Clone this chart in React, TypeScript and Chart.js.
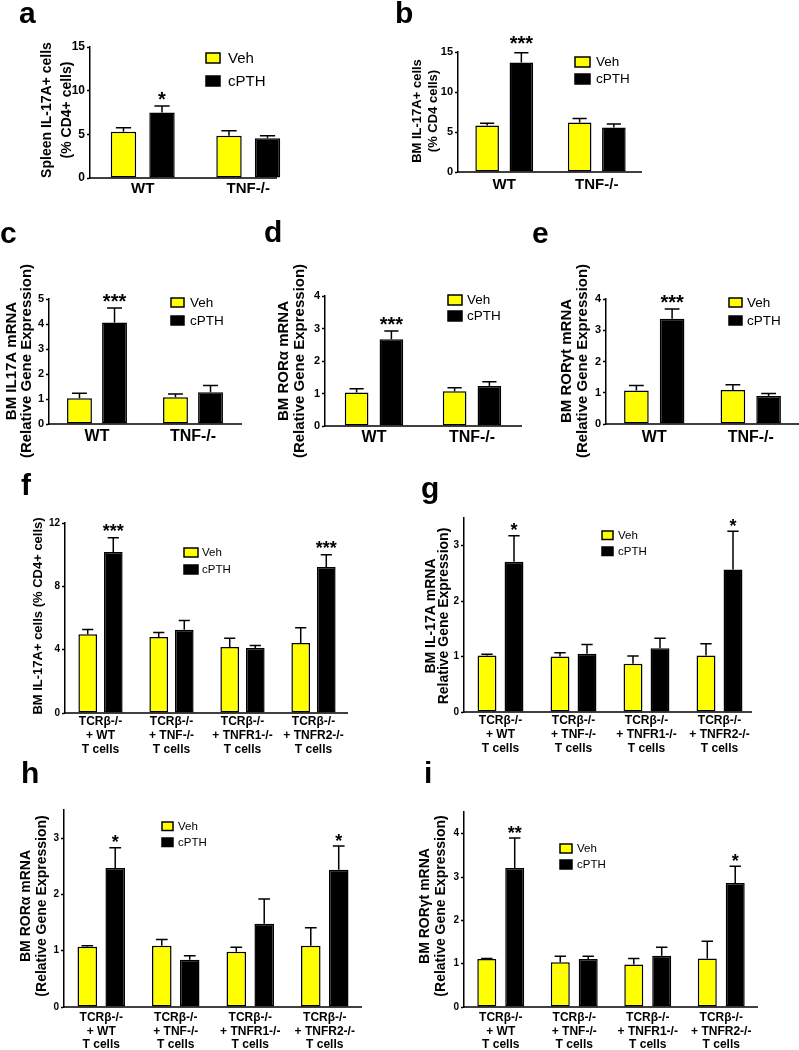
import React, { useEffect, useRef } from 'react';
import { Chart, registerables } from 'chart.js';

Chart.register(...registerables);

const W = 799;
const H = 1050;
const FONT = "'Liberation Sans', Arial, Helvetica, sans-serif";
const YELLOW = '#ffff00';
const INK = '#000000';

// ---------- shared labels ----------
const SERIES = ['Veh', 'cPTH'];
const GROUPS_TNF = ['WT', 'TNF-/-'];
const GROUPS_TCR = [
  ['TCRβ-/-', '+ WT', 'T cells'],
  ['TCRβ-/-', '+ TNF-/-', 'T cells'],
  ['TCRβ-/-', '+ TNFR1-/-', 'T cells'],
  ['TCRβ-/-', '+ TNFR2-/-', 'T cells'],
];

// ---------- panel a: Spleen IL-17A+ cells ----------
const A_VEH = [5.3, 4.85];
const A_VEH_ERR = [0.45, 0.57];
const A_CPTH = [7.5, 4.55];
const A_CPTH_ERR = [0.75, 0.3];
const A_STARS = ['*', ''];

// ---------- panel b: BM IL-17A+ cells ----------
const B_VEH = [5.8, 6.2];
const B_VEH_ERR = [0.3, 0.5];
const B_CPTH = [13.7, 5.55];
const B_CPTH_ERR = [1.2, 0.45];
const B_STARS = ['***', ''];

// ---------- panel c: BM IL17A mRNA ----------
const C_VEH = [1.03, 1.07];
const C_VEH_ERR = [0.2, 0.13];
const C_CPTH = [4.06, 1.27];
const C_CPTH_ERR = [0.58, 0.27];
const C_STARS = ['***', ''];

// ---------- panel d: BM RORα mRNA ----------
const D_VEH = [1.03, 1.07];
const D_VEH_ERR = [0.12, 0.11];
const D_CPTH = [2.67, 1.23];
const D_CPTH_ERR = [0.25, 0.13];
const D_STARS = ['***', ''];

// ---------- panel e: BM RORγt mRNA ----------
const E_VEH = [1.07, 1.09];
const E_VEH_ERR = [0.16, 0.17];
const E_CPTH = [3.37, 0.9];
const E_CPTH_ERR = [0.31, 0.08];
const E_STARS = ['***', ''];

// ---------- panel f: BM IL-17A+ cells (TCRβ-/- transfers) ----------
const F_VEH = [4.97, 4.8, 4.17, 4.42];
const F_VEH_ERR = [0.31, 0.29, 0.55, 0.97];
const F_CPTH = [10.17, 5.26, 4.1, 9.22];
const F_CPTH_ERR = [0.9, 0.59, 0.17, 0.78];
const F_STARS = ['***', '', '', '***'];

// ---------- panel g: BM IL-17A mRNA ----------
const G_VEH = [1.02, 1.0, 0.87, 1.02];
const G_VEH_ERR = [0.02, 0.07, 0.14, 0.21];
const G_CPTH = [2.71, 1.05, 1.15, 2.57];
const G_CPTH_ERR = [0.47, 0.17, 0.18, 0.69];
const G_STARS = ['*', '', '', '*'];

// ---------- panel h: BM RORα mRNA ----------
const H_VEH = [1.07, 1.09, 0.98, 1.09];
const H_VEH_ERR = [0.02, 0.11, 0.08, 0.32];
const H_CPTH = [2.47, 0.84, 1.48, 2.44];
const H_CPTH_ERR = [0.36, 0.07, 0.44, 0.42];
const H_STARS = ['*', '', '', '*'];

// ---------- panel i: BM RORγt mRNA ----------
const I_VEH = [1.11, 1.03, 0.98, 1.12];
const I_VEH_ERR = [0.01, 0.14, 0.14, 0.4];
const I_CPTH = [3.21, 1.11, 1.18, 2.86];
const I_CPTH_ERR = [0.69, 0.06, 0.2, 0.39];
const I_STARS = ['**', '', '', '*'];

type PanelCfg = {
  letter: string; letterX: number; letterY: number;
  labels: (string | string[])[];
  veh: number[]; vehErr: number[]; cpth: number[]; cpthErr: number[]; stars: string[];
  x0: number; xR: number; axisEnd: number; yTop: number; yBot: number;
  yMax: number; yStep: number; tickSize: number;
  xLabelSize: number; xLabelLH: number; xLabelPad: number;
  title: string[]; titleX: number[]; titleY: number; titleSize: number;
  legX: number; legY: number[]; legW: number; legH: number; legSize: number; legGap: number;
  starSize: number; starGap: number;
  catPct: number; barPct: number;
};

const PANELS: PanelCfg[] = [
  {
    letter: 'a', letterX: 19, letterY: 23, labels: GROUPS_TNF,
    veh: A_VEH, vehErr: A_VEH_ERR, cpth: A_CPTH, cpthErr: A_CPTH_ERR, stars: A_STARS,
    x0: 90, xR: 301, axisEnd: 277, yTop: 47, yBot: 178, yMax: 15, yStep: 5, tickSize: 12,
    xLabelSize: 15, xLabelLH: 1.2, xLabelPad: 2,
    title: ['Spleen IL-17A+ cells', '(% CD4+ cells)'], titleX: [47, 67], titleY: 110, titleSize: 14,
    legX: 206, legY: [53, 76], legW: 14, legH: 10, legSize: 15, legGap: 8,
    starSize: 20, starGap: 10, catPct: 0.73, barPct: 0.66,
  },
  {
    letter: 'b', letterX: 395, letterY: 23, labels: GROUPS_TNF,
    veh: B_VEH, vehErr: B_VEH_ERR, cpth: B_CPTH, cpthErr: B_CPTH_ERR, stars: B_STARS,
    x0: 458, xR: 643, axisEnd: 642, yTop: 52, yBot: 172, yMax: 15, yStep: 5, tickSize: 11,
    xLabelSize: 15, xLabelLH: 1.2, xLabelPad: 4,
    title: ['BM IL-17A+ cells', '(% CD4 cells)'], titleX: [417, 433], titleY: 111, titleSize: 13,
    legX: 575, legY: [57, 74], legW: 15, legH: 10, legSize: 13.5, legGap: 6,
    starSize: 20, starGap: 13, catPct: 0.74, barPct: 0.69,
  },
  {
    letter: 'c', letterX: 0, letterY: 243, labels: GROUPS_TNF,
    veh: C_VEH, vehErr: C_VEH_ERR, cpth: C_CPTH, cpthErr: C_CPTH_ERR, stars: C_STARS,
    x0: 49, xR: 241, axisEnd: 242, yTop: 299, yBot: 424, yMax: 5, yStep: 1, tickSize: 11,
    xLabelSize: 16, xLabelLH: 1.2, xLabelPad: 3,
    title: ['BM IL17A mRNA', '(Relative Gene Expression)'], titleX: [12, 27], titleY: 361, titleSize: 15,
    legX: 171, legY: [298, 316], legW: 13, legH: 9, legSize: 13.5, legGap: 6,
    starSize: 20, starGap: 10, catPct: 0.73, barPct: 0.71,
  },
  {
    letter: 'd', letterX: 264, letterY: 242, labels: GROUPS_TNF,
    veh: D_VEH, vehErr: D_VEH_ERR, cpth: D_CPTH, cpthErr: D_CPTH_ERR, stars: D_STARS,
    x0: 325, xR: 521, axisEnd: 522, yTop: 296, yBot: 426, yMax: 4, yStep: 1, tickSize: 11,
    xLabelSize: 16, xLabelLH: 1.2, xLabelPad: 2,
    title: ['BM RORα mRNA', '(Relative Gene Expression)'], titleX: [284, 300], titleY: 361, titleSize: 15,
    legX: 448, legY: [295, 311], legW: 14, legH: 10, legSize: 13.5, legGap: 5,
    starSize: 20, starGap: 10, catPct: 0.71, barPct: 0.68,
  },
  {
    letter: 'e', letterX: 532, letterY: 243, labels: GROUPS_TNF,
    veh: E_VEH, vehErr: E_VEH_ERR, cpth: E_CPTH, cpthErr: E_CPTH_ERR, stars: E_STARS,
    x0: 606, xR: 799, axisEnd: 799, yTop: 299, yBot: 424, yMax: 4, yStep: 1, tickSize: 11,
    xLabelSize: 16, xLabelLH: 1.2, xLabelPad: 4,
    title: ['BM RORγt mRNA', '(Relative Gene Expression)'], titleX: [567, 583], titleY: 361, titleSize: 15,
    legX: 729, legY: [298, 316], legW: 13, legH: 9, legSize: 13.5, legGap: 5,
    starSize: 20, starGap: 10, catPct: 0.74, barPct: 0.69,
  },
  {
    letter: 'f', letterX: 21, letterY: 495, labels: GROUPS_TCR,
    veh: F_VEH, vehErr: F_VEH_ERR, cpth: F_CPTH, cpthErr: F_CPTH_ERR, stars: F_STARS,
    x0: 65, xR: 349, axisEnd: 348, yTop: 523, yBot: 713, yMax: 12, yStep: 4, tickSize: 10,
    xLabelSize: 12, xLabelLH: 1.15, xLabelPad: 2,
    title: ['BM IL-17A+ cells (% CD4+ cells)'], titleX: [38], titleY: 616, titleSize: 13,
    legX: 184, legY: [548, 565], legW: 14, legH: 9, legSize: 11.5, legGap: 4,
    starSize: 18, starGap: 10, catPct: 0.72, barPct: 0.73,
  },
  {
    letter: 'g', letterX: 421, letterY: 498, labels: GROUPS_TCR,
    veh: G_VEH, vehErr: G_VEH_ERR, cpth: G_CPTH, cpthErr: G_CPTH_ERR, stars: G_STARS,
    x0: 464, xR: 756, axisEnd: 752, yTop: 518, yBot: 712, yMax: 3.5, yStep: 1, tickSize: 10,
    xLabelSize: 12, xLabelLH: 1.15, xLabelPad: 2,
    title: ['BM IL-17A mRNA', 'Relative Gene Expression)'], titleX: [431, 444], titleY: 616, titleSize: 14,
    legX: 602, legY: [531, 547], legW: 11, legH: 8.5, legSize: 11.5, legGap: 5,
    starSize: 18, starGap: 9, catPct: 0.74, barPct: 0.7,
  },
  {
    letter: 'h', letterX: 21, letterY: 783, labels: GROUPS_TCR,
    veh: H_VEH, vehErr: H_VEH_ERR, cpth: H_CPTH, cpthErr: H_CPTH_ERR, stars: H_STARS,
    x0: 64, xR: 362, axisEnd: 362, yTop: 810, yBot: 1007, yMax: 3.5, yStep: 1, tickSize: 10,
    xLabelSize: 12, xLabelLH: 1.15, xLabelPad: 3.5,
    title: ['BM RORα mRNA', '(Relative Gene Expression)'], titleX: [26, 42], titleY: 906, titleSize: 14,
    legX: 162, legY: [822, 838], legW: 11, legH: 8.5, legSize: 11.5, legGap: 5,
    starSize: 18, starGap: 9, catPct: 0.75, barPct: 0.7,
  },
  {
    letter: 'i', letterX: 424, letterY: 783, labels: GROUPS_TCR,
    veh: I_VEH, vehErr: I_VEH_ERR, cpth: I_CPTH, cpthErr: I_CPTH_ERR, stars: I_STARS,
    x0: 464, xR: 758, axisEnd: 758, yTop: 812, yBot: 1007, yMax: 4.5, yStep: 1, tickSize: 10,
    xLabelSize: 12, xLabelLH: 1.15, xLabelPad: 3.5,
    title: ['BM RORγt mRNA', '(Relative Gene Expression)'], titleX: [425, 441], titleY: 906, titleSize: 14,
    legX: 560, legY: [844, 860], legW: 12, legH: 9, legSize: 11.5, legGap: 5,
    starSize: 18, starGap: 9, catPct: 0.76, barPct: 0.68,
  },
];

function overlayPlugin(p: PanelCfg) {
  return {
    id: 'overlay_' + p.letter,
    afterDraw(chart: any) {
      const ctx: CanvasRenderingContext2D = chart.ctx;
      const ys = chart.scales.y;
      const area = chart.chartArea;
      ctx.save();
      ctx.strokeStyle = INK;
      ctx.fillStyle = INK;
      ctx.lineWidth = 1.5;

      // x axis line
      const y0 = ys.getPixelForValue(0);
      ctx.beginPath();
      ctx.moveTo(area.left - 0.75, y0);
      ctx.lineTo(p.axisEnd, y0);
      ctx.stroke();

      // error bars + significance stars
      [0, 1].forEach((di) => {
        const meta = chart.getDatasetMeta(di);
        const vals = di === 0 ? p.veh : p.cpth;
        const errs = di === 0 ? p.vehErr : p.cpthErr;
        meta.data.forEach((el: any, i: number) => {
          const { x, width } = el.getProps(['x', 'width'], true);
          const top = ys.getPixelForValue(vals[i]);
          const capY = ys.getPixelForValue(vals[i] + errs[i]);
          const half = width * 0.3;
          ctx.beginPath();
          ctx.moveTo(x, top);
          ctx.lineTo(x, capY);
          ctx.moveTo(x - half, capY);
          ctx.lineTo(x + half, capY);
          ctx.stroke();
          if (di === 1 && p.stars[i]) {
            ctx.font = `bold ${p.starSize}px ${FONT}`;
            ctx.textAlign = 'center';
            ctx.textBaseline = 'alphabetic';
            const m = ctx.measureText(p.stars[i]);
            const base = capY - p.starGap + (m.actualBoundingBoxAscent - m.actualBoundingBoxDescent) / 2;
            ctx.fillText(p.stars[i], x, base);
          }
        });
      });

      // legend
      SERIES.forEach((name, k) => {
        const by = p.legY[k];
        ctx.fillStyle = k === 0 ? YELLOW : INK;
        ctx.fillRect(p.legX, by, p.legW, p.legH);
        ctx.strokeStyle = INK;
        ctx.lineWidth = 1.5;
        ctx.strokeRect(p.legX, by, p.legW, p.legH);
        ctx.fillStyle = INK;
        ctx.font = `${p.legSize}px ${FONT}`;
        ctx.textAlign = 'left';
        ctx.textBaseline = 'middle';
        ctx.fillText(name, p.legX + p.legW + p.legGap, by + p.legH / 2 + 0.5);
      });

      // y-axis title (rotated)
      ctx.font = `bold ${p.titleSize}px ${FONT}`;
      ctx.textAlign = 'center';
      ctx.textBaseline = 'middle';
      p.title.forEach((line, k) => {
        ctx.save();
        ctx.translate(p.titleX[k], p.titleY);
        ctx.rotate(-Math.PI / 2);
        ctx.fillText(line, 0, 0);
        ctx.restore();
      });

      // panel letter
      ctx.font = `bold 30px ${FONT}`;
      ctx.textAlign = 'left';
      ctx.textBaseline = 'alphabetic';
      ctx.fillText(p.letter, p.letterX, p.letterY);
      ctx.restore();
    },
  };
}

function makeConfig(p: PanelCfg): any {
  return {
    type: 'bar',
    data: {
      labels: p.labels,
      datasets: [
        { label: SERIES[0], data: p.veh, backgroundColor: YELLOW, borderColor: INK, borderWidth: 1.5, borderSkipped: false },
        { label: SERIES[1], data: p.cpth, backgroundColor: INK, borderColor: INK, borderWidth: 1.5, borderSkipped: false },
      ],
    },
    options: {
      responsive: false,
      animation: false,
      events: [],
      devicePixelRatio: 1,
      layout: { padding: { left: 0, top: p.yTop, right: W - p.xR, bottom: 0 } },
      plugins: { legend: { display: false }, title: { display: false }, tooltip: { enabled: false } },
      datasets: { bar: { categoryPercentage: p.catPct, barPercentage: p.barPct } },
      scales: {
        x: {
          type: 'category',
          offset: true,
          grid: { display: false, drawTicks: false },
          border: { display: false },
          ticks: {
            color: INK,
            autoSkip: false,
            maxRotation: 0,
            minRotation: 0,
            padding: p.xLabelPad,
            font: { family: FONT, size: p.xLabelSize, weight: 'bold', lineHeight: p.xLabelLH },
          },
          afterFit: (s: any) => { s.height = H - p.yBot; },
        },
        y: {
          type: 'linear',
          min: 0,
          max: p.yMax,
          grid: { display: true, drawOnChartArea: false, drawTicks: true, tickLength: 3, tickColor: INK, tickWidth: 1.5, color: INK },
          border: { display: true, color: INK, width: 1.5 },
          ticks: {
            stepSize: p.yStep,
            includeBounds: false,
            color: INK,
            padding: 2,
            font: { family: FONT, size: p.tickSize, weight: 'bold' },
          },
          afterBuildTicks: (s: any) => {
            s.ticks = s.ticks.filter((t: any) => Math.abs(t.value / p.yStep - Math.round(t.value / p.yStep)) < 1e-6);
          },
          afterFit: (s: any) => { s.width = p.x0; },
        },
      },
    },
    plugins: [overlayPlugin(p)],
  };
}

function Panel({ p }: { p: PanelCfg }) {
  const ref = useRef<HTMLCanvasElement>(null);
  useEffect(() => {
    if (!ref.current) return;
    const chart = new Chart(ref.current, makeConfig(p));
    return () => chart.destroy();
  }, [p]);
  return (
    <canvas
      ref={ref}
      width={W}
      height={H}
      style={{ position: 'absolute', left: 0, top: 0, width: W, height: H }}
    />
  );
}

export default function App() {
  return (
    <div style={{ position: 'absolute', left: 0, top: 0, width: W, height: H, background: '#ffffff', overflow: 'hidden' }}>
      {PANELS.map((p) => (
        <Panel key={p.letter} p={p} />
      ))}
    </div>
  );
}
